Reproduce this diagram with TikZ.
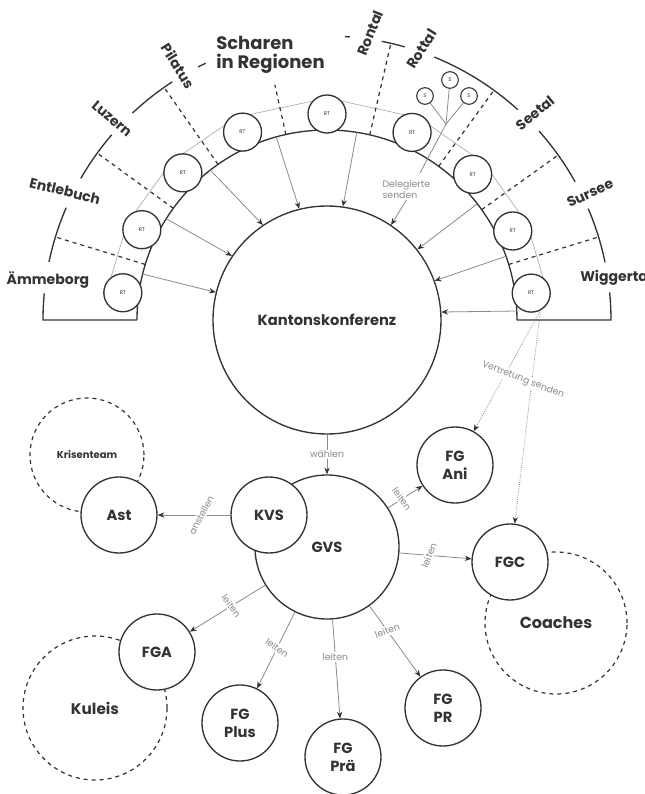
\documentclass[tikz,border=0pt]{standalone}
\usepackage{fontspec}
\setmainfont{Poppins}
\usetikzlibrary{arrows.meta}
\usetikzlibrary{calc}

\definecolor{linie}{HTML}{333333}
\definecolor{grau}{HTML}{8A8A8A}

\begin{document}
\begin{tikzpicture}[x=.75pt, y=.75pt, >={Stealth[length=5pt, width=4pt, linie]},
kreis/.style={circle, draw=linie, line width=1pt, fill=white, inner sep=0, align=center, text=linie, font=\fontsize{11}{13.5}\selectfont\bfseries},
rt/.style={kreis, minimum size=28.5pt, font=\fontsize{4}{4}\selectfont},
schar/.style={kreis, minimum size=12.5pt, line width=.8pt, font=\fontsize{4}{4}\selectfont},
fachgruppe/.style={kreis, minimum size=57pt},
team/.style={circle, draw=linie, line width=.9pt, dashed, inner sep=0, align=center, text=linie, font=\fontsize{11.5}{13}\selectfont\bfseries},
pfeil/.style={->, grau, line width=.6pt},
vertretung/.style={->, grau, line width=.6pt, densely dotted},
notiz/.style={font=\fontsize{7}{8}\selectfont, text=grau, fill=white, inner sep=1pt},
region/.style={font=\fontsize{10.5}{12}\selectfont\bfseries, text=linie, inner sep=0},
trenner/.style={dashed, line width=.9pt, linie},
klammer/.style={line width=1pt, linie}]
\useasboundingbox (-327,-474) rectangle (317,320);

% Band der Regionen
\draw[grau!70, line width=.5pt] (172.4:222) -- (154:222) -- (134.4:222) -- (114.2:222) -- (90:222) -- (65.6:222) -- (45:222) -- (25.6:222) -- (7.5:222);
\draw[klammer] (180:190) arc[start angle=180, end angle=0, radius=190];
\draw[trenner] (163:190) -- (163:284);
\draw[trenner] (144:190) -- (144:284);
\draw[trenner] (125:190) -- (125:284);
\draw[trenner] (102.5:190) -- (102.5:241);
\draw[trenner] (77:190) -- (77:284);
\draw[trenner] (54:190) -- (54:284);
\draw[trenner] (35.5:190) -- (35.5:284);
\draw[trenner] (17:190) -- (17:284);
\draw[klammer] (174.6:284) arc[start angle=174.6, end angle=180, radius=284] -- (180:190);
\draw[klammer] (168.2:284) arc[start angle=168.2, end angle=156.7, radius=284];
\draw[klammer] (150.1:284) arc[start angle=150.1, end angle=139.3, radius=284];
\draw[klammer] (133.2:284) arc[start angle=133.2, end angle=123, radius=284];
\draw[klammer] (117:284) arc[start angle=117, end angle=115.3, radius=284];
\draw[klammer] (86.4:284) arc[start angle=86.4, end angle=85.4, radius=284];
\draw[klammer] (78.9:284) arc[start angle=78.9, end angle=74.1, radius=284];
\draw[klammer] (67.8:284) arc[start angle=67.8, end angle=47.8, radius=284];
\draw[klammer] (41.7:284) arc[start angle=41.7, end angle=29.1, radius=284];
\draw[klammer] (23.1:284) arc[start angle=23.1, end angle=11.7, radius=284];
\draw[klammer] (5.6:284) arc[start angle=5.6, end angle=0, radius=284] -- (0:190);

\node[region] (aemmeborg) at (-279,40) {Ämmeborg};
\node[region, rotate=-14] (entlebuch) at (-262,129) {Entlebuch};
\node[region, rotate=-40] (luzern) at (-215,201) {Luzern};
\node[region, rotate=-58] (pilatus) at (-149,254) {Pilatus};
\node[region, rotate=68] (rontal) at (43,287) {Rontal};
\node[region, rotate=58] (rottal) at (95,271) {Rottal};
\node[region, rotate=40] (seetal) at (208,207) {Seetal};
\node[region, rotate=25] (sursee) at (263,127) {Sursee};
\node[region, anchor=west] (wiggertal) at (253,42) {Wiggerta};
\node[region, anchor=north west, align=left, font=\fontsize{13.5}{14.5}\selectfont\bfseries] (titel) at (-111,284) {Scharen\\in Regionen};

\node[kreis, minimum size=171pt] (kk) at (0,0) {Kantonskonferenz};

% Pfeile zur Kantonskonferenz
\coordinate (a1) at (166:190);
\coordinate (a2) at (147.8:190);
\coordinate (a3) at (127.9:190);
\coordinate (a4) at (105.5:190);
\coordinate (a5) at (81:190);
\coordinate (a6) at (37.7:190);
\coordinate (a7) at (19.6:190);
\coordinate (a8) at (190,9);
\draw[pfeil] (a1) -- (kk.166.8);
\draw[pfeil] (a2) -- (kk.146.2);
\draw[pfeil] (a3) -- (kk.124.4);
\draw[pfeil] (a4) -- (kk.104.4);
\draw[pfeil] (a5) -- (kk.82);
\draw[pfeil] (a6) -- (kk.38.4);
\draw[pfeil] (a7) -- (kk.20.4);
\draw[pfeil] (a8) -- (kk.4.5);

\node[rt] (rt1) at (172.4:206) {RT};
\node[rt] (rt2) at (154:206) {RT};
\node[rt] (rt3) at (134.4:206) {RT};
\node[rt] (rt4) at (114.2:206) {RT};
\node[rt] (rt5) at (90:206) {RT};
\node[rt] (rt6) at (65.6:206) {RT};
\node[rt] (rt7) at (45:206) {RT};
\node[rt] (rt8) at (25.6:206) {RT};
\node[rt] (rt9) at (7.5:206) {RT};

% Scharen senden Delegierte
\node[schar] (s1) at (123,240) {S};
\node[schar] (s2) at (98,224) {S};
\node[schar] (s3) at (142,224) {S};
\coordinate (j) at (119,196);
\coordinate (d) at (93,147);
\draw[grau, line width=.6pt] (s1) -- (j);
\draw[grau, line width=.6pt] (s2) -- (j);
\draw[grau, line width=.6pt] (s3) -- (j);
\draw[grau, line width=.6pt] (j) -- (d);
\node[notiz, anchor=north west, align=left, fill=none] (deleg) at (54,141) {Delegierte\\senden};
\draw[pfeil] (deleg.south) -- (kk.56);

% Kantonsvorstand und Fachgruppen
\node[team, minimum size=85.5pt, font=\fontsize{7.5}{9}\selectfont\bfseries] (krisen) at (-240,-135) {Krisenteam};
\node[team, minimum size=106.5pt, font=\fontsize{12}{14}\selectfont\bfseries] (coaches) at (229,-303) {Coaches};
\node[team, minimum size=108pt] (kuleis) at (-232,-388) {Kuleis};
\node[kreis, minimum size=108pt] (gvs) at (0,-227) {GVS};
\node[fachgruppe] (kvs) at (-58,-195) {KVS};
\node[fachgruppe] (ast) at (-208,-195) {Ast};
\node[fachgruppe] (fgani) at (128,-145) {FG\\Ani};
\node[fachgruppe] (fgc) at (183,-242) {FGC};
\node[fachgruppe] (fga) at (-170,-332) {FGA};
\node[fachgruppe] (fgplus) at (-87,-403) {FG\\Plus};
\node[fachgruppe] (fgprae) at (16,-437) {FG\\Prä};
\node[fachgruppe] (fgpr) at (116,-388) {FG\\PR};

\draw[pfeil] (kk) -- (gvs) node[notiz, pos=.5] {wählen};
\draw[pfeil] (kvs) -- (ast) node[notiz, pos=.4, rotate=62] {anstellen};
\draw[pfeil] (gvs) -- (fgani) node[notiz, pos=.4, rotate=-55] {leiten};
\draw[pfeil] (gvs) -- (fgc) node[notiz, pos=.41, rotate=68] {leiten};
\draw[pfeil] (gvs) -- (fga) node[notiz, pos=.45, rotate=-55] {leiten};
\draw[pfeil] (gvs) -- (fgplus) node[notiz, pos=.47, rotate=-35] {leiten};
\draw[pfeil] (gvs) -- (fgprae) node[notiz, pos=.38] {leiten};
\draw[pfeil] (gvs) -- (fgpr) node[notiz, pos=.35, rotate=20] {leiten};

\draw[vertretung] (rt9.-62) -- (fgani);
\draw[vertretung] (rt9.-62) -- (fgc);
\node[notiz, rotate=-21] (vertr) at (196,-60) {Vertretung senden};
\end{tikzpicture}
\end{document}
